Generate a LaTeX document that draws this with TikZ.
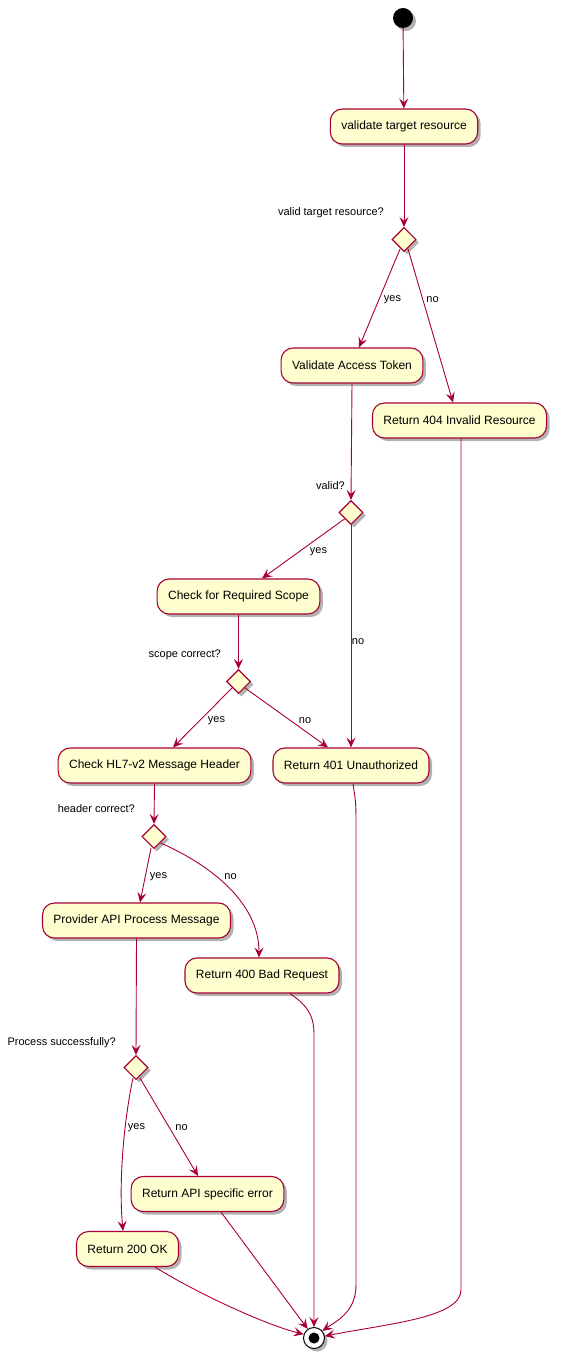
\documentclass[tikz,border=0pt]{standalone}
\usepackage{fontspec}
\setmainfont{Liberation Sans}
\usetikzlibrary{shapes.geometric,arrows.meta,shadows,calc}
\definecolor{pumlred}{HTML}{A80036}
\definecolor{pumlfill}{HTML}{FEFECE}
\tikzset{
  shd/.style={drop shadow={shadow xshift=3pt,shadow yshift=-3pt,opacity=0.3,fill=black}},
  actbox/.style={draw=pumlred, fill=pumlfill, line width=1.1pt, rounded corners=12pt,
    minimum height=35pt, inner xsep=11pt, font=\fontsize{12}{14}\selectfont, shd},
  dia/.style={diamond, draw=pumlred, fill=pumlfill, line width=1.1pt, minimum width=24pt,
    minimum height=24pt, inner sep=0pt, aspect=1, shd},
  qlbl/.style={anchor=east, inner sep=0pt, font=\fontsize{11}{13}\selectfont},
  elbl/.style={inner sep=0pt, font=\fontsize{11}{13}\selectfont},
  conn/.style={draw=pumlred, line width=0.9pt, -{Stealth[length=10pt,width=9pt,inset=4pt]}}
}
\begin{document}
\begin{tikzpicture}[x=1pt,y=-1pt]
\useasboundingbox (0,0) rectangle (565,1364);
% nodes
\node[circle, fill=black, minimum size=20pt, inner sep=0pt, shd] (start) at (403,18) {};
\node[actbox] (b1) at (404,126.5) {validate target resource};
\node[dia] (d1) at (404,239.5) {};
\node[qlbl] (q1) at (384,213) {valid target resource?};
\node[actbox] (b2) at (352,365.5) {Validate Access Token};
\node[actbox] (b3) at (459.5,420.5) {Return 404 Invalid Resource};
\node[dia] (d2) at (351,512.5) {};
\node[qlbl] (q2) at (345,486) {valid?};
\node[actbox] (b4) at (238.5,596.5) {Check for Required Scope};
\node[dia] (d3) at (238.5,681.5) {};
\node[qlbl] (q3) at (221,655) {scope correct?};
\node[actbox] (b5) at (154.5,765.5) {Check HL7-v2 Message Header};
\node[actbox] (b6) at (351,765.5) {Return 401 Unauthorized};
\node[dia] (d4) at (154,836.5) {};
\node[qlbl] (q4) at (135,809) {header correct?};
\node[actbox] (b7) at (136.5,920.5) {Provider API Process Message};
\node[actbox] (b8) at (262,975.5) {Return 400 Bad Request};
\node[dia] (d5) at (136,1067.5) {};
\node[qlbl] (q5) at (116,1043) {Process successfully?};
\node[actbox] (b9) at (207.5,1194) {Return API specific error};
\node[actbox] (b10) at (127.5,1249) {Return 200 OK};
\node[circle, draw=black, line width=1pt, fill=white, minimum size=21pt, inner sep=0pt, shd] (end) at (314,1338) {};
\node[circle, fill=black, minimum size=11pt, inner sep=0pt] (endin) at (end.center) {};
% edge labels
\node[elbl] (y1) at (392.5,300) {yes};
\node[elbl] (n1) at (432.5,300) {no};
\node[elbl] (y2) at (318.5,552) {yes};
\node[elbl] (n2) at (358,642) {no};
\node[elbl] (y3) at (216.5,721) {yes};
\node[elbl] (n3) at (305,721) {no};
\node[elbl] (y4) at (158.5,877) {yes};
\node[elbl] (n4) at (230.5,877) {no};
\node[elbl] (y5) at (136.5,1128) {yes};
\node[elbl] (n5) at (181.5,1128) {no};
% helper coordinates
\coordinate (k6a) at (356,830);
\coordinate (k6b) at (356,1285);
\coordinate (k3a) at (461,1290);
% connectors
\draw[conn] (start) -- (b1);
\draw[conn] (b1) -- (d1);
\draw[conn] ($(d1.south)+(-4,-3)$) -- ($(b2.north)+(7,0)$);
\draw[conn] ($(d1.south)+(4,-3)$) -- ($(b3.north)+(-6.5,0)$);
\draw[conn] (b2.south) -- (d2.north);
\draw[conn] (d2.south west) -- ($(b4.north)+(23.5,0)$);
\draw[conn] (d2.south) -- (d2.south |- b6.north);
\draw[conn] (b4.south) -- (d3.north);
\draw[conn] (d3.south west) -- ($(b5.north)+(18.5,0)$);
\draw[conn] (d3.south east) -- ($(b6.north)+(-23,0)$);
\draw[conn] (b5.south) -- (d4.north);
\draw[conn] ($(d4.south)+(-3,-1)$) -- ($(b7.north)+(3.5,0)$);
\draw[conn] (d4.south east) .. controls ($(d4.south east)+(50,22)$) and ($(b8.north)+(-3,-55)$) .. ($(b8.north)+(-3,0)$);
\draw[conn] (b7.south) -- (d5.north);
\draw[conn] ($(d5.south)+(-3,-2)$) .. controls ($(d5.south)+(-12,40)$) and ($(b10.north)+(-9,-50)$) .. ($(b10.north)+(-4.5,0)$);
\draw[conn] ($(d5.south)+(4,-2)$) -- ($(b9.north)+(-9.5,0)$);
\draw[conn] ($(b10.south)+(27.5,0)$) .. controls +(40,25) and ($(end.160)+(-40,-10)$) .. (end.160);
\draw[conn] ($(b9.south)+(13.5,0)$) -- (end.125);
\draw[conn] ($(b8.south)+(28,0)$) .. controls +(14,10) and ($(end.north)+(0,-315)$) .. ($(end.north)+(0,-293)$) -- (end.north);
\draw[conn] ($(b6.south)+(2,0)$) .. controls +(3,20) .. (k6a) -- (k6b) .. controls +(0,27) and ($(end.40)+(14,-10)$) .. (end.40);
\draw[conn] ($(b3.south)+(1.5,0)$) -- (k3a) .. controls +(0,28) and ($(end.10)+(60,-12)$) .. (end.10);
\end{tikzpicture}
\end{document}
